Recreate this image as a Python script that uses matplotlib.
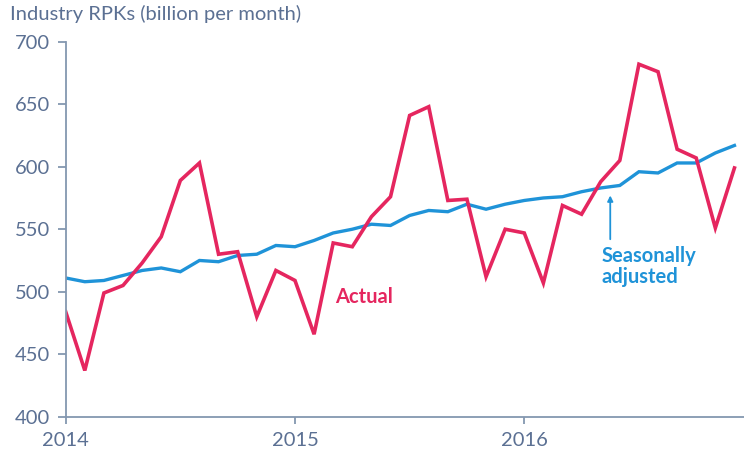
import numpy as np
import matplotlib
matplotlib.use("Agg")
import matplotlib.pyplot as plt

plt.rcParams['font.family'] = ['Lato', 'DejaVu Sans']

# monthly, Jan 2014 .. Dec 2016
actual = [484, 437, 499, 505, 523, 544, 589, 603, 530, 532, 480, 517,
          509, 466, 539, 536, 560, 576, 641, 648, 573, 574, 512, 550,
          547, 507, 569, 562, 588, 605, 682, 676, 614, 607, 551, 599]
seas_adj = [511, 508, 509, 513, 517, 519, 516, 525, 524, 529, 530, 537,
            536, 541, 547, 550, 554, 553, 561, 565, 564, 570, 566, 570,
            573, 575, 576, 580, 583, 585, 596, 595, 603, 603, 611, 617]
year_labels = ['2014', '2015', '2016']
y_ticks = [400, 450, 500, 550, 600, 650, 700]

months = np.arange(len(actual))

red = '#e5265f'
blue = '#1f93d8'
axis_col = '#8497b0'
text_col = '#5b7093'

fig = plt.figure(figsize=(7.44, 4.51), dpi=100)
ax = fig.add_axes([0.0883, 0.076, 0.9117, 0.8315])

ax.plot(months, seas_adj, color=blue, lw=2.4, solid_joinstyle='miter')
ax.plot(months, actual, color=red, lw=2.6, solid_joinstyle='miter')

ax.set_xlim(0, 35.5)
ax.set_ylim(400, 700)
ax.set_yticks(y_ticks)
ax.set_xticks([0, 12, 24])
ax.set_xticklabels(year_labels)

for s in ['top', 'right']:
    ax.spines[s].set_visible(False)
for s in ['left', 'bottom']:
    ax.spines[s].set_color(axis_col)
    ax.spines[s].set_linewidth(1.3)
ax.tick_params(axis='y', colors=axis_col, labelcolor=text_col, labelsize=14.5,
               length=6, width=1.3, pad=5)
ax.tick_params(axis='x', colors=axis_col, labelcolor=text_col, labelsize=14.5,
               length=5, width=1.3, pad=6)

fig.text(0.013, 0.968, 'Industry RPKs (billion per month)', color=text_col,
         fontsize=14.5, va='center', ha='left')

ax.text(14.12, 496, 'Actual', color=red, fontsize=14.5, fontweight='bold',
        va='center', ha='left')
ax.annotate('', xy=(28.5, 577), xytext=(28.5, 542),
            arrowprops=dict(arrowstyle='-|>', color=blue, lw=1.3,
                            mutation_scale=8, shrinkA=0, shrinkB=0))
ax.text(28.05, 520, 'Seasonally\nadjusted', color=blue, fontsize=14.5,
        fontweight='bold', va='center', ha='left', linespacing=1.05)

fig.savefig('out.png', dpi=100)
